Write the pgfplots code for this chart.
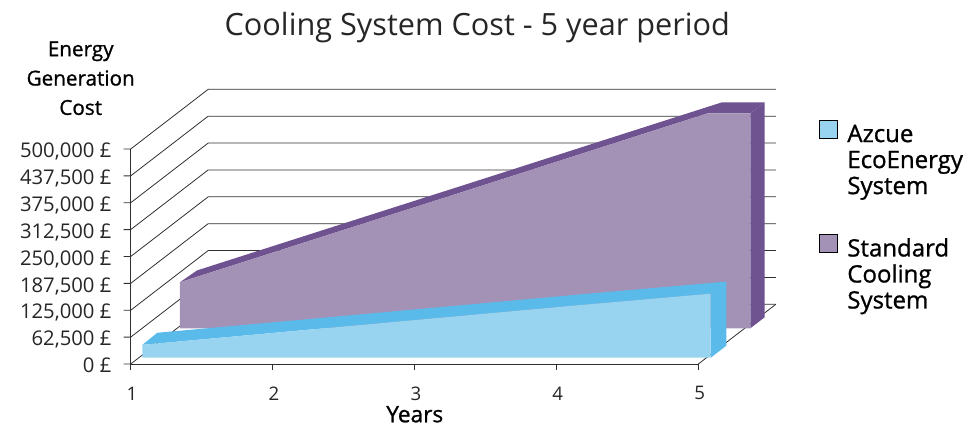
\documentclass[border=0pt]{standalone}
\usepackage{fontspec}
\setmainfont{Open Sans}
\newfontfamily\semi[FakeBold=1]{Open Sans}
\usepackage{pgfplots}
\pgfplotsset{compat=1.18}
\definecolor{purpface}{HTML}{A491B6}
\definecolor{purpside}{HTML}{6F5290}
\definecolor{blueface}{HTML}{98D3EF}
\definecolor{blueside}{HTML}{5ABAEA}
\definecolor{gridc}{HTML}{303030}
\begin{document}
\begin{tikzpicture}[x=0.75pt,y=0.75pt]
\begin{axis}[
    x={(106.43pt,0pt)},
    y={(58.13pt,44.78pt)},
    z={(0pt,0.3225pt)},
    xmin=1,xmax=5,ymin=0,ymax=1,zmin=0,zmax=500,
    clip=false,
    axis x line*=bottom,
    axis z line*=left,
    axis y line=none,
    axis line style={-,gridc,line width=0.6pt},
    xtick={1,2,3,4,5},
    xticklabels={1,2,3,4,5},
    ytick=\empty,
    ztick={0,62.5,125,187.5,250,312.5,375,437.5,500},
    zticklabels={{0 £},{62,500 £},{125,000 £},{187,500 £},{250,000 £},{312,500 £},{375,000 £},{437,500 £},{500,000 £}},
    tick style={draw=none},
    tick align=outside,
    major tick length=5pt,
    ticklabel style={font=\fontsize{15.2}{17}\selectfont,text=black!85},
    xticklabel style={anchor=center,font=\fontsize{14}{16}\selectfont,xshift=5pt,yshift=-19pt},
    zticklabel style={anchor=base east,xshift=-7pt,yshift=-3.5pt},
    xlabel={Years},
    xlabel style={font=\semi\fontsize{17}{19}\selectfont,xshift=18.5pt,yshift=-0.5pt},
    title={Cooling System Cost - 5 year period},
    title style={font=\fontsize{23}{26}\selectfont,text=black!85,xshift=18pt,yshift=25pt},
    every axis z label/.style={at={(axis cs:1,0,500)},anchor=center,xshift=-37.5pt,yshift=52pt},
    zlabel={\semi\fontsize{15.5}{22}\selectfont\begin{tabular}{@{}c@{}}Energy\\Generation\\Cost\end{tabular}},
    legend image code/.code={\fill[#1] (0pt,-3pt) rectangle (13.5pt,10.5pt);\path (19pt,0pt);},
    legend style={draw=none,fill=none,at={(axis description cs:1.06,0.9)},anchor=north west,
       font=\semi\fontsize{18}{19.5}\selectfont,row sep=65.5pt},
    legend cell align=left,
]
% back wall grid lines
\pgfplotsinvokeforeach{0,62.5,125,187.5,250,312.5,375,437.5,500}{
  \addplot3[gridc,line width=0.6pt,forget plot] coordinates {(0.951,0,#1) (1,0,#1) (1,1,#1) (5,1,#1)};
}
\addplot3[gridc,line width=0.6pt,forget plot] coordinates {(1,0,0) (1,0,500)};
\addplot3[gridc,line width=0.6pt,forget plot] coordinates {(5,0,0) (5,1,0)};
% x ticks point straight down in the reference
\pgfplotsinvokeforeach{1,2,3,4,5}{
  \addplot3[gridc,line width=0.6pt,forget plot] coordinates {(#1,0,0) (#1,0,-15)};
}
% standard cooling system, clipped at the 500,000 limit
\addplot3[fill=purpside,draw=none,forget plot] coordinates {(1.02,0.598,107) (2.02,0.598,212.6) (3.02,0.598,318) (4.02,0.598,424) (4.74,0.598,500) (5.04,0.598,500) (5.04,0.782,500) (4.74,0.782,500) (4.02,0.782,424) (3.02,0.782,318) (2.02,0.782,212.6) (1.04,0.782,109)};
\addplot3[fill=purpside,draw=none,forget plot] coordinates {(5.04,0.598,500) (5.04,0.782,500) (5.04,0.782,0) (5.04,0.598,0)};
\addplot3[fill=purpface,draw=none,forget plot] coordinates {(1.02,0.598,0) (1.02,0.598,107) (2.02,0.598,212.6) (3.02,0.598,318) (4.02,0.598,424) (4.74,0.598,500) (5.04,0.598,500) (5.04,0.598,0)};
% azcue ecoenergy system
\addplot3[fill=blueside,draw=none,forget plot] coordinates {(1.025,0.105,30) (2.025,0.105,60) (3.025,0.105,90) (4.025,0.105,120) (5.03,0.105,149) (5.03,0.307,149) (4.025,0.307,120) (3.025,0.307,90) (2.025,0.307,60) (1.02,0.307,30)};
\addplot3[fill=blueside,draw=none,forget plot] coordinates {(5.03,0.105,149) (5.03,0.307,149) (5.03,0.307,0) (5.03,0.105,0)};
\addplot3[fill=blueface,draw=none,forget plot] coordinates {(1.025,0.105,0) (1.025,0.105,30) (2.025,0.105,60) (3.025,0.105,90) (4.025,0.105,120) (5.03,0.105,149) (5.03,0.105,0)};
\addlegendimage{fill=blueface}
\addlegendentry{\begin{tabular}[t]{@{}l@{}}Azcue\\EcoEnergy\\System\end{tabular}}
\addlegendimage{fill=purpface}
\addlegendentry{\begin{tabular}[t]{@{}l@{}}Standard\\Cooling\\System\end{tabular}}
% page frame of the reference, 973x428 px
\path (axis cs:1,0,0) ++(-98.025pt,-48pt) rectangle ++(729.75pt,321pt);
\end{axis}
\end{tikzpicture}
\end{document}
